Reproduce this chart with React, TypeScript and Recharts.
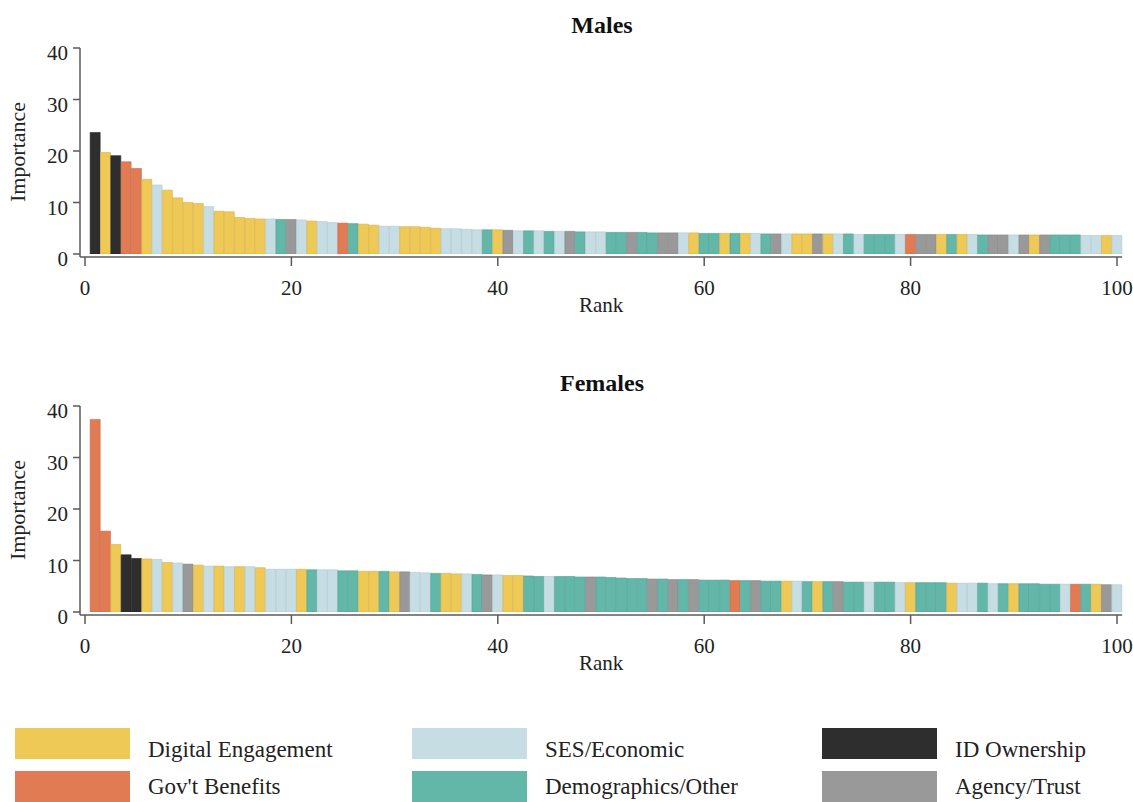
import React from 'react';
import { BarChart, Bar, XAxis, YAxis, Cell } from 'recharts';

type Group = 'D' | 'G' | 'S' | 'M' | 'I' | 'A';

// Variable groups, in legend order (column by column)
const GROUPS: Group[] = ['D', 'G', 'S', 'M', 'I', 'A'];

const GROUP_LABELS: Record<Group, string> = {
    D: 'Digital Engagement',
    G: "Gov't Benefits",
    S: 'SES/Economic',
    M: 'Demographics/Other',
    I: 'ID Ownership',
    A: 'Agency/Trust',
};

const GROUP_FILL: Record<Group, string> = {
    D: '#EFC955',
    G: '#E07B53',
    S: '#C6DDE4',
    M: '#62B7A9',
    I: '#2E2E2E',
    A: '#999999',
};

const GROUP_EDGE: Record<Group, string> = {
    D: '#D6B04A',
    G: '#C8694A',
    S: '#AFC7CF',
    M: '#51A194',
    I: '#222222',
    A: '#868686',
};

const RANK_TICKS = [0, 20, 40, 60, 80, 100];
const IMPORTANCE_TICKS = [0, 10, 20, 30, 40];

// Males, rank 1..100
const MALE_IMPORTANCE = [
    23.6, 19.7, 19.1, 17.9, 16.6, 14.5, 13.4, 12.4, 10.9, 10.0,
    9.8, 9.2, 8.3, 8.2, 7.1, 6.9, 6.8, 6.8, 6.7, 6.7,
    6.6, 6.4, 6.3, 6.1, 6.0, 5.9, 5.8, 5.6, 5.4, 5.4,
    5.3, 5.3, 5.2, 5.0, 4.9, 4.9, 4.8, 4.7, 4.7, 4.7,
    4.6, 4.5, 4.5, 4.5, 4.4, 4.4, 4.4, 4.3, 4.3, 4.3,
    4.2, 4.2, 4.2, 4.2, 4.1, 4.1, 4.1, 4.1, 4.1, 4.0,
    4.0, 4.0, 4.0, 4.0, 4.0, 3.9, 3.9, 3.9, 3.9, 3.9,
    3.9, 3.9, 3.9, 3.9, 3.8, 3.8, 3.8, 3.8, 3.8, 3.8,
    3.8, 3.8, 3.8, 3.8, 3.8, 3.8, 3.7, 3.7, 3.7, 3.7,
    3.7, 3.7, 3.7, 3.7, 3.7, 3.7, 3.6, 3.6, 3.6, 3.6,
];
const MALE_GROUPS = (
    'IDIGGDSDDD' + 'DSDDDDDSMA' + 'SDSSGMDDSS' + 'DDDDSSSSMD' + 'ASMSMSAMSS' +
    'MMAMMAASDM' + 'MDMDSMASDD' + 'ADSMSMMMSG' + 'AADMDSMAAS' + 'ADAMMMSSDS'
).split('') as Group[];

// Females, rank 1..100
const FEMALE_IMPORTANCE = [
    37.4, 15.7, 13.1, 11.1, 10.4, 10.3, 10.2, 9.6, 9.5, 9.3,
    9.1, 8.9, 8.9, 8.8, 8.8, 8.8, 8.6, 8.3, 8.3, 8.3,
    8.3, 8.2, 8.2, 8.2, 8.0, 8.0, 7.9, 7.9, 7.9, 7.8,
    7.8, 7.7, 7.6, 7.5, 7.5, 7.4, 7.4, 7.3, 7.2, 7.2,
    7.1, 7.1, 7.0, 6.9, 6.9, 6.9, 6.9, 6.8, 6.8, 6.8,
    6.7, 6.6, 6.5, 6.5, 6.4, 6.4, 6.3, 6.3, 6.3, 6.2,
    6.2, 6.2, 6.1, 6.1, 6.1, 6.0, 6.0, 6.0, 6.0, 5.9,
    5.9, 5.9, 5.9, 5.8, 5.8, 5.8, 5.8, 5.8, 5.7, 5.7,
    5.7, 5.7, 5.7, 5.6, 5.6, 5.6, 5.6, 5.5, 5.5, 5.5,
    5.5, 5.5, 5.4, 5.4, 5.4, 5.4, 5.4, 5.4, 5.3, 5.3,
];
const FEMALE_GROUPS = (
    'GGDIIDSDSA' + 'DSDSDSDSSS' + 'DMSSMMDDMD' + 'ASSMDDSMAS' + 'DDMMSMMMAM' +
    'MMMMAMAMAM' + 'MMGMAMMDSM' + 'DMAMMSMMSD' + 'MMMDSSMSMD' + 'MMMMSGMDAS'
).split('') as Group[];

const FONT = '"Liberation Serif", "DejaVu Serif", serif';
const AXIS = '#5a5a5a';
const INK = '#222';

// the rank axis runs a little past the bars on the left (where the y axis sits)
const RANK_DOMAIN: [number, number] = [-0.4845, 100.5];

interface PanelProps {
    values: number[];
    groups: Group[];
    top: number;
}

const Panel: React.FC<PanelProps> = ({ values, groups, top }) => {
    const data = values.map((v, i) => ({ rank: i + 1, importance: v, group: groups[i] }));
    return (
        <div style={{ position: 'absolute', left: 0, top }}>
            <BarChart
                width={1133}
                height={320}
                data={data}
                margin={{ top: 48, right: 10.84, bottom: 3, left: 10 }}
                barCategoryGap={0}
                barGap={0}
            >
                {/* bars sit on a band axis, the visible rank axis is numeric */}
                <XAxis xAxisId="cat" dataKey="rank" type="category" hide height={0} padding={{ left: 10.16, right: 0 }} />
                <XAxis
                    xAxisId="num"
                    dataKey="rank"
                    type="number"
                    domain={RANK_DOMAIN}
                    allowDataOverflow
                    ticks={RANK_TICKS}
                    interval={0}
                    height={60}
                    tickSize={9}
                    tickMargin={14}
                    axisLine={{ stroke: AXIS, strokeWidth: 1.5 }}
                    tickLine={{ stroke: AXIS, strokeWidth: 1.5 }}
                    tick={{ fill: INK, fontSize: 21, fontFamily: FONT }}
                    label={{ value: 'Rank', position: 'insideBottom', offset: 5, fill: INK, fontSize: 21, fontFamily: FONT }}
                />
                <YAxis
                    type="number"
                    domain={[0, 40]}
                    allowDataOverflow
                    ticks={IMPORTANCE_TICKS}
                    interval={0}
                    width={70}
                    padding={{ top: 0, bottom: 3 }}
                    tickSize={7}
                    tickMargin={5}
                    axisLine={{ stroke: AXIS, strokeWidth: 1.5 }}
                    tickLine={{ stroke: AXIS, strokeWidth: 1.5 }}
                    tick={{ fill: INK, fontSize: 21, fontFamily: FONT, dy: 5 }}
                />
                <Bar xAxisId="cat" dataKey="importance" isAnimationActive={false}>
                    {data.map((d) => (
                        <Cell key={d.rank} fill={GROUP_FILL[d.group]} stroke={GROUP_EDGE[d.group]} strokeWidth={0.6} />
                    ))}
                </Bar>
            </BarChart>
        </div>
    );
};

// legend grid: 3 columns x 2 rows
const LEGEND_COL_X = [15, 412, 822];
const LEGEND_ROW_Y = [728, 771];
const LEGEND_TEXT_Y = [757, 794];

export default function App() {
    return (
        <div
            style={{
                position: 'absolute',
                left: 0,
                top: 0,
                width: 1133,
                height: 802,
                background: '#fff',
                overflow: 'hidden',
                fontFamily: FONT,
            }}
        >
            <Panel values={MALE_IMPORTANCE} groups={MALE_GROUPS} top={0} />
            <Panel values={FEMALE_IMPORTANCE} groups={FEMALE_GROUPS} top={358} />
            <svg width={1133} height={802} style={{ position: 'absolute', left: 0, top: 0, pointerEvents: 'none' }}>
                <text x={602} y={33} textAnchor="middle" fontSize={24} fontWeight="bold" fontFamily={FONT} fill="#111">
                    Males
                </text>
                <text x={602} y={391} textAnchor="middle" fontSize={24} fontWeight="bold" fontFamily={FONT} fill="#111">
                    Females
                </text>
                <text x={25} y={152} transform="rotate(-90 25 152)" textAnchor="middle" fontSize={22} fontFamily={FONT} fill={INK}>
                    Importance
                </text>
                <text x={25} y={510} transform="rotate(-90 25 510)" textAnchor="middle" fontSize={22} fontFamily={FONT} fill={INK}>
                    Importance
                </text>
                {GROUPS.map((g, i) => {
                    const col = Math.floor(i / 2);
                    const row = i % 2;
                    const x = LEGEND_COL_X[col];
                    return (
                        <g key={g}>
                            <rect x={x} y={LEGEND_ROW_Y[row]} width={115} height={31} fill={GROUP_FILL[g]} />
                            <text x={x + 133} y={LEGEND_TEXT_Y[row]} fontSize={23} fontFamily={FONT} fill={INK}>
                                {GROUP_LABELS[g]}
                            </text>
                        </g>
                    );
                })}
            </svg>
        </div>
    );
}
